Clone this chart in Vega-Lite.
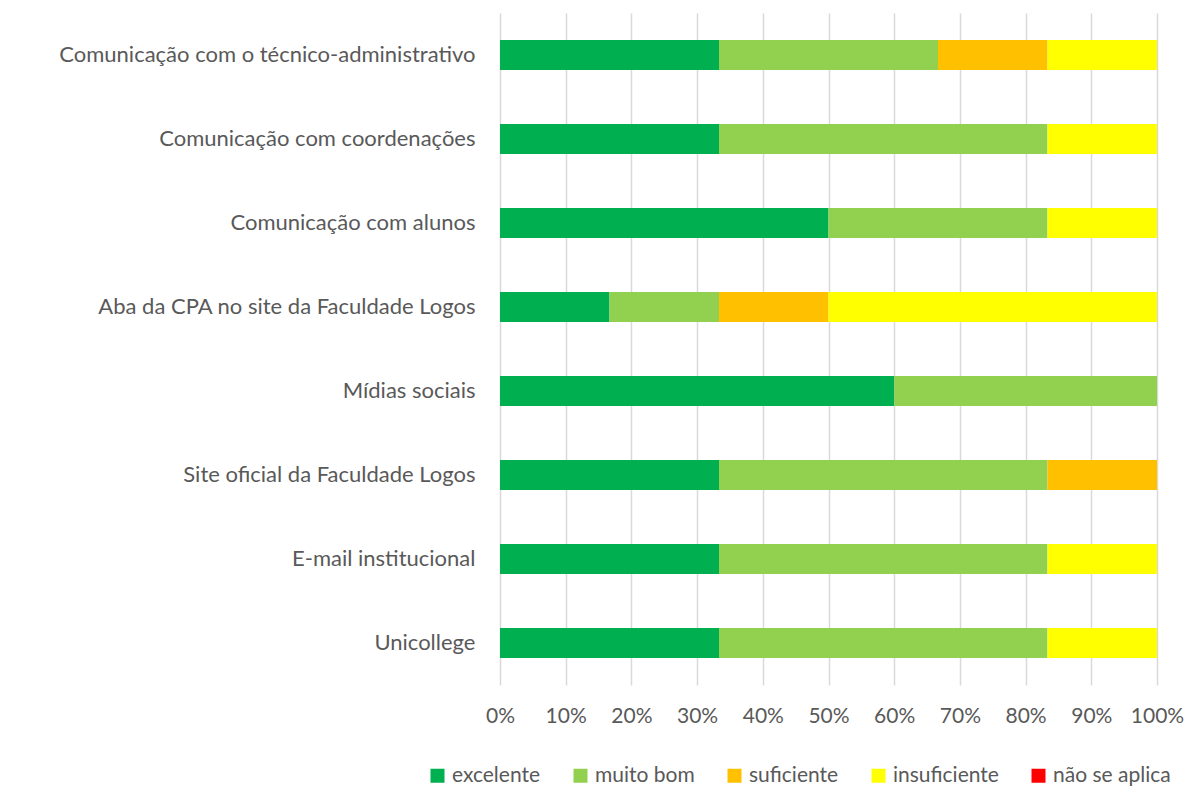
{
  "$schema": "https://vega.github.io/schema/vega-lite/v6.json",
  "autosize": "none",
  "width": 657,
  "height": 672,
  "padding": {"left": 500, "top": 13, "right": 32, "bottom": 124},
  "background": "white",
  "config": {
    "view": {"stroke": null},
    "font": "Lato",
    "axis": {"labelFont": "Lato", "labelColor": "#595959", "labelFontSize": 21},
    "legend": {"labelFont": "Lato", "labelColor": "#595959", "labelFontSize": 21}
  },
  "data": {
    "values": [
      {"item": "Comunicação com o técnico-administrativo", "avaliacao": "excelente", "rank": 1, "n": 2},
      {"item": "Comunicação com o técnico-administrativo", "avaliacao": "muito bom", "rank": 2, "n": 2},
      {"item": "Comunicação com o técnico-administrativo", "avaliacao": "suficiente", "rank": 3, "n": 1},
      {"item": "Comunicação com o técnico-administrativo", "avaliacao": "insuficiente", "rank": 4, "n": 1},
      {"item": "Comunicação com coordenações", "avaliacao": "excelente", "rank": 1, "n": 2},
      {"item": "Comunicação com coordenações", "avaliacao": "muito bom", "rank": 2, "n": 3},
      {"item": "Comunicação com coordenações", "avaliacao": "insuficiente", "rank": 4, "n": 1},
      {"item": "Comunicação com alunos", "avaliacao": "excelente", "rank": 1, "n": 3},
      {"item": "Comunicação com alunos", "avaliacao": "muito bom", "rank": 2, "n": 2},
      {"item": "Comunicação com alunos", "avaliacao": "insuficiente", "rank": 4, "n": 1},
      {"item": "Aba da CPA no site da Faculdade Logos", "avaliacao": "excelente", "rank": 1, "n": 1},
      {"item": "Aba da CPA no site da Faculdade Logos", "avaliacao": "muito bom", "rank": 2, "n": 1},
      {"item": "Aba da CPA no site da Faculdade Logos", "avaliacao": "suficiente", "rank": 3, "n": 1},
      {"item": "Aba da CPA no site da Faculdade Logos", "avaliacao": "insuficiente", "rank": 4, "n": 3},
      {"item": "Mídias sociais", "avaliacao": "excelente", "rank": 1, "n": 3},
      {"item": "Mídias sociais", "avaliacao": "muito bom", "rank": 2, "n": 2},
      {"item": "Site oficial da Faculdade Logos", "avaliacao": "excelente", "rank": 1, "n": 2},
      {"item": "Site oficial da Faculdade Logos", "avaliacao": "muito bom", "rank": 2, "n": 3},
      {"item": "Site oficial da Faculdade Logos", "avaliacao": "suficiente", "rank": 3, "n": 1},
      {"item": "E-mail institucional", "avaliacao": "excelente", "rank": 1, "n": 2},
      {"item": "E-mail institucional", "avaliacao": "muito bom", "rank": 2, "n": 3},
      {"item": "E-mail institucional", "avaliacao": "insuficiente", "rank": 4, "n": 1},
      {"item": "Unicollege", "avaliacao": "excelente", "rank": 1, "n": 2},
      {"item": "Unicollege", "avaliacao": "muito bom", "rank": 2, "n": 3},
      {"item": "Unicollege", "avaliacao": "insuficiente", "rank": 4, "n": 1}
    ]
  },
  "mark": {"type": "bar"},
  "encoding": {
    "y": {
      "field": "item",
      "type": "nominal",
      "sort": [
        "Comunicação com o técnico-administrativo",
        "Comunicação com coordenações",
        "Comunicação com alunos",
        "Aba da CPA no site da Faculdade Logos",
        "Mídias sociais",
        "Site oficial da Faculdade Logos",
        "E-mail institucional",
        "Unicollege"
      ],
      "scale": {"paddingInner": 0.643, "paddingOuter": 0.3215},
      "axis": {"title": null, "domain": false, "ticks": false, "labelPadding": 25, "labelLimit": 500, "labelFontSize": 22}
    },
    "x": {
      "field": "n",
      "type": "quantitative",
      "stack": "normalize",
      "scale": {"domain": [0, 1], "nice": false},
      "axis": {
        "title": null,
        "format": ".0%",
        "values": [0, 0.1, 0.2, 0.3, 0.4, 0.5, 0.6, 0.7, 0.8, 0.9, 1],
        "domain": false,
        "ticks": false,
        "grid": true,
        "gridColor": "#D9D9D9",
        "gridWidth": 1.5,
        "labelPadding": 20,
        "labelFlush": false
      }
    },
    "color": {
      "field": "avaliacao",
      "type": "nominal",
      "sort": ["excelente", "muito bom", "suficiente", "insuficiente", "não se aplica"],
      "scale": {
        "domain": ["excelente", "muito bom", "suficiente", "insuficiente", "não se aplica"],
        "range": ["#00B050", "#92D050", "#FFC000", "#FFFF00", "#FF0000"]
      },
      "legend": {
        "title": null,
        "orient": "none",
        "direction": "horizontal",
        "legendX": -73,
        "legendY": 752,
        "symbolType": "square",
        "symbolSize": 196,
        "symbolStrokeWidth": 0,
        "symbolOpacity": 1,
        "labelOffset": 4,
        "columnPadding": 29
      }
    },
    "order": {"field": "rank", "type": "quantitative"}
  }
}
